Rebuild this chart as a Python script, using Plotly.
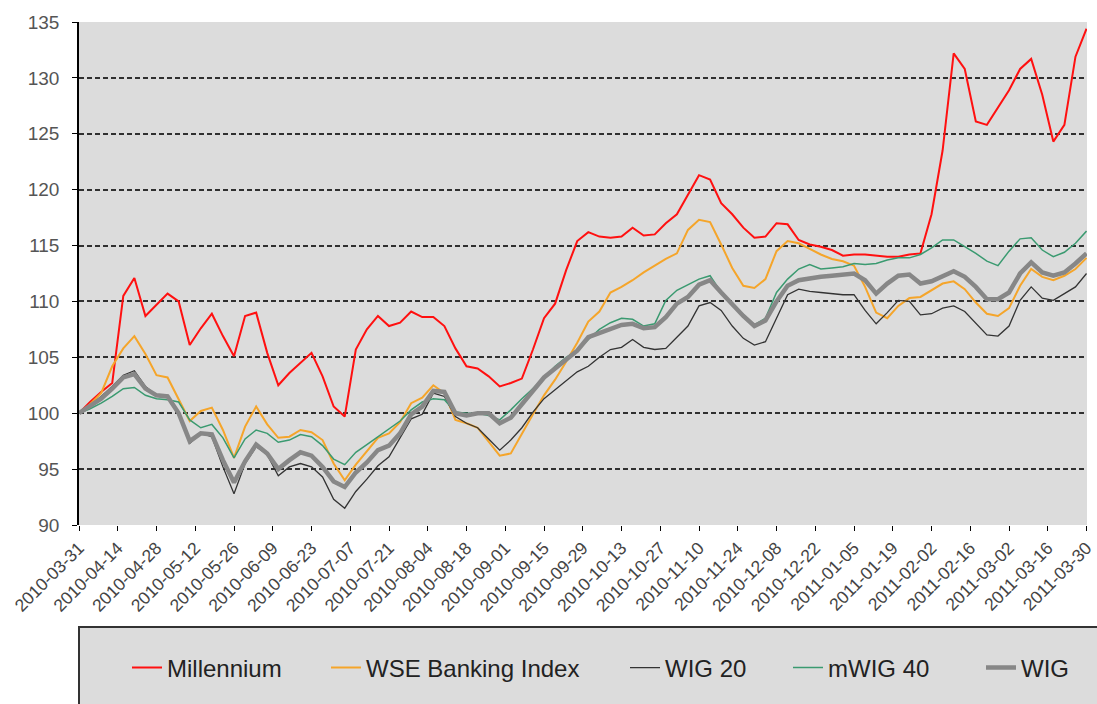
import pandas as pd
import plotly.graph_objects as go

# Sampling dates (every 4 calendar days, 2010-03-31 .. 2011-03-30)
dates = pd.date_range("2010-03-31", periods=92, freq="4D")

millennium = [
    100.0, 101.0, 101.9, 102.7, 110.5, 112.1, 108.7, 109.7, 110.7, 110.0,
    106.1, 107.6, 108.9, 106.9, 105.1, 108.7, 109.0, 105.4, 102.5, 103.6,
    104.5, 105.4, 103.3, 100.6, 99.7, 105.7, 107.5, 108.7, 107.8, 108.1,
    109.1, 108.6, 108.6, 107.8, 105.8, 104.2, 104.0, 103.3, 102.4, 102.7,
    103.1, 105.7, 108.5, 109.8, 112.8, 115.4, 116.2, 115.8, 115.7, 115.8,
    116.6, 115.9, 116.0, 117.0, 117.8, 119.6, 121.3, 120.9, 118.8, 117.8,
    116.6, 115.7, 115.8, 117.0, 116.9, 115.5, 115.1, 114.9, 114.6, 114.1,
    114.2, 114.2, 114.1, 114.0, 114.0, 114.2, 114.3, 117.8, 123.5, 132.2,
    130.8, 126.1, 125.8, 127.3, 128.9, 130.8, 131.7, 128.5, 124.3, 125.8,
    131.9, 134.4,
]
wse_banking = [
    100.0, 100.8, 101.8, 104.2, 105.8, 106.9, 105.3, 103.4, 103.2, 101.2,
    99.3, 100.2, 100.5, 98.5, 96.0, 98.8, 100.6, 99.0, 97.8, 97.9,
    98.5, 98.3, 97.6, 95.5, 94.0, 95.4, 96.6, 97.8, 98.2, 99.2,
    100.9, 101.4, 102.5, 101.8, 99.4, 99.1, 98.7, 97.5, 96.2, 96.4,
    98.2, 99.9, 101.6, 103.0, 104.6, 106.3, 108.2, 109.1, 110.8, 111.3,
    111.9, 112.6, 113.2, 113.8, 114.3, 116.4, 117.3, 117.1, 115.1, 113.0,
    111.4, 111.2, 112.0, 114.5, 115.4, 115.2, 114.7, 114.2, 113.8, 113.6,
    113.2, 111.3, 109.0, 108.5, 109.6, 110.3, 110.4, 111.0, 111.6, 111.8,
    111.1, 109.9, 108.9, 108.7, 109.4, 111.4, 112.9, 112.2, 111.9, 112.3,
    112.9, 113.9,
]
wig20 = [
    100.0, 100.7, 101.5, 102.4, 103.4, 103.8, 102.4, 101.6, 101.6, 100.0,
    97.3, 98.2, 97.9, 95.2, 92.8, 95.5, 97.0, 96.3, 94.4, 95.2,
    95.5, 95.2, 94.3, 92.3, 91.5, 93.0, 94.1, 95.3, 96.1, 97.8,
    99.5, 99.9, 101.8, 101.5, 99.7, 99.1, 98.7, 97.7, 96.7, 97.6,
    98.7, 100.1, 101.3, 102.1, 102.9, 103.7, 104.2, 105.0, 105.7, 105.9,
    106.6, 105.9, 105.7, 105.8, 106.8, 107.8, 109.6, 109.9, 109.2, 107.8,
    106.7, 106.1, 106.4, 108.5, 110.6, 111.1, 110.9, 110.8, 110.7, 110.6,
    110.6, 109.2, 108.0, 109.0, 110.1, 110.0, 108.8, 108.9, 109.4, 109.6,
    109.1, 108.0, 107.0, 106.9, 107.8, 110.1, 111.3, 110.3, 110.1, 110.7,
    111.3, 112.5,
]
mwig40 = [
    100.0, 100.4, 100.9, 101.5, 102.2, 102.3, 101.6, 101.3, 101.2, 101.0,
    99.4, 98.7, 99.0, 97.8, 96.0, 97.7, 98.5, 98.2, 97.4, 97.6,
    98.1, 97.9, 97.1, 95.9, 95.4, 96.5, 97.2, 97.9, 98.6, 99.3,
    100.3, 101.0, 101.3, 101.2, 100.1, 100.0, 100.0, 99.8, 99.4, 100.3,
    101.3, 102.2, 103.2, 104.2, 105.0, 105.6, 106.6, 107.5, 108.1, 108.5,
    108.4, 107.8, 108.0, 110.1, 111.0, 111.5, 112.0, 112.3, 110.8, 109.7,
    108.8, 107.9, 108.5, 110.8, 112.0, 112.9, 113.3, 112.9, 113.0, 113.1,
    113.4, 113.3, 113.4, 113.7, 113.9, 113.9, 114.2, 114.8, 115.5, 115.5,
    114.9, 114.3, 113.6, 113.2, 114.5, 115.6, 115.7, 114.6, 114.0, 114.4,
    115.2, 116.3,
]
wig = [
    100.0, 100.6, 101.3, 102.2, 103.2, 103.5, 102.2, 101.6, 101.5, 100.0,
    97.5, 98.2, 98.1, 95.8, 93.8, 95.7, 97.2, 96.4, 95.0, 95.8,
    96.5, 96.2, 95.2, 93.9, 93.4, 94.7, 95.6, 96.7, 97.1, 98.2,
    99.9, 100.6, 102.0, 101.9, 100.0, 99.8, 100.0, 100.0, 99.1, 99.6,
    100.8, 102.0, 103.2, 104.0, 104.8, 105.6, 106.8, 107.2, 107.6, 107.9,
    108.0, 107.6, 107.7, 108.6, 109.8, 110.4, 111.5, 111.9, 110.8, 109.7,
    108.7, 107.8, 108.3, 110.0, 111.4, 111.9, 112.1, 112.2, 112.3, 112.4,
    112.5, 111.9, 110.7, 111.6, 112.3, 112.4, 111.6, 111.8, 112.3, 112.7,
    112.2, 111.3, 110.2, 110.2, 110.8, 112.5, 113.5, 112.6, 112.3, 112.6,
    113.4, 114.3,
]

series_names = ["Millennium", "WSE Banking Index", "WIG 20", "mWIG 40", "WIG"]
series_values = [millennium, wse_banking, wig20, mwig40, wig]
series_colors = ["#ff1010", "#f5a52a", "#333333", "#3a9a70", "#878787"]
series_widths = [2, 2, 1.3, 1.5, 4.5]
legend_ids = ["legend", "legend2", "legend3", "legend4", "legend5"]
legend_px = [127, 326, 625, 788, 981]

FONT = "Liberation Sans, Arial, sans-serif"
W, H = 1097, 704

fig = go.Figure()
for name, vals, col, w, lg in zip(series_names, series_values, series_colors,
                                  series_widths, legend_ids):
    fig.add_trace(go.Scatter(x=dates, y=vals, mode="lines", name=name,
                             line=dict(color=col, width=w), legend=lg))

legend_common = dict(orientation="h", xref="container", yref="container",
                     yanchor="middle", xanchor="left", y=1 - 668 / H,
                     bgcolor="rgba(0,0,0,0)", borderwidth=0,
                     font=dict(family=FONT, size=24, color="#222222"))
layout_legends = {}
for lg, px in zip(legend_ids, legend_px):
    layout_legends[lg] = dict(legend_common, x=px / W)

fig.update_layout(
    width=W, height=H,
    margin=dict(l=79, r=10, t=22, b=179),
    paper_bgcolor="white",
    plot_bgcolor="#dcdcdc",
    font=dict(family=FONT),
    showlegend=True,
    **layout_legends,
)
fig.update_yaxes(
    range=[90, 135], dtick=5, tick0=90, automargin=False,
    showgrid=True, gridcolor="#303030", gridwidth=2, griddash="5px,3px",
    zeroline=False, showline=True, linecolor="black", linewidth=1.5,
    ticks="outside", ticklen=5, tickcolor="black", ticklabelstandoff=9,
    tickfont=dict(family=FONT, size=19, color="#555555"),
)
fig.update_xaxes(
    type="date", automargin=False,
    range=["2010-03-31", "2011-03-30 04:00"],
    tick0="2010-03-31", dtick=14 * 86400000,
    tickformat="%Y-%m-%d", tickangle=-45, ticklabeloverflow="allow",
    showgrid=False, zeroline=False, showline=False,
    ticks="outside", ticklen=5, tickcolor="black",
    tickfont=dict(family=FONT, size=17.5, color="#444444"),
)
# legend panel background
fig.add_shape(type="rect", xref="paper", yref="paper",
              x0=0, x1=1.05, y0=-0.5, y1=(525 - 627) / 503,
              fillcolor="#dcdcdc", line=dict(color="#333333", width=2),
              layer="below")

fig.write_html(
    "out.html",
    config={"displayModeBar": False},
    post_script="document.body.style.margin='0';"
                "document.body.style.overflow='hidden';",
)
